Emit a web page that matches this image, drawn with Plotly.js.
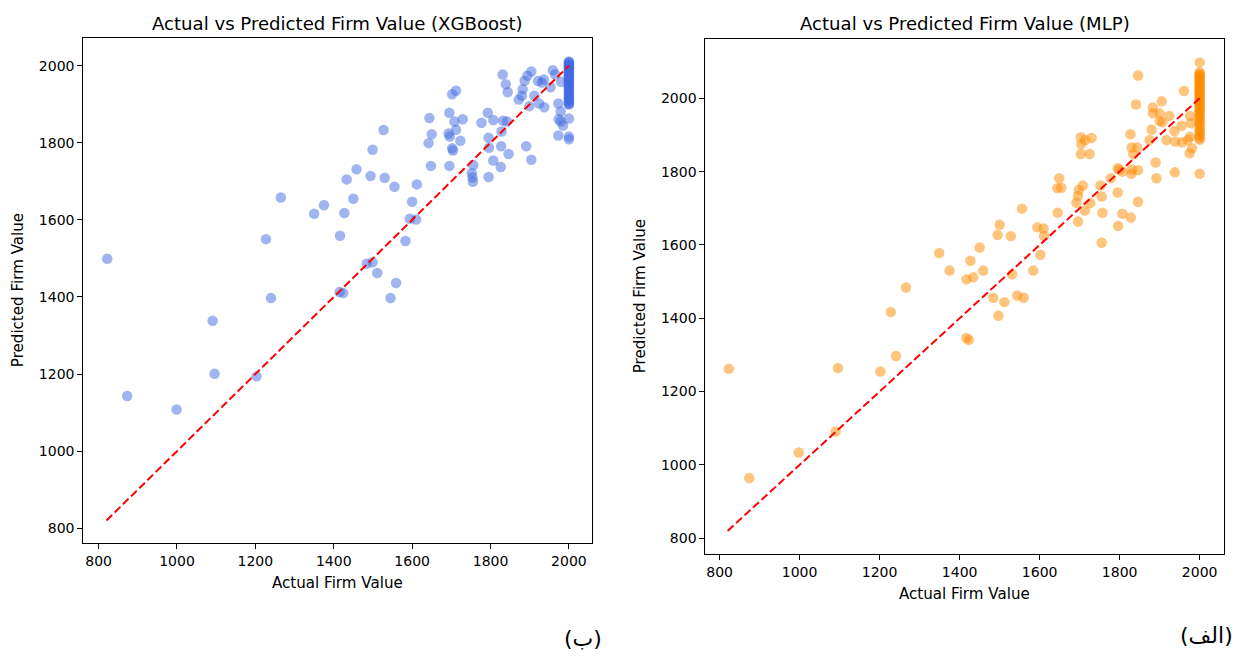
<!DOCTYPE html>
<html>
<head>
<meta charset="utf-8">
<script src="https://cdn.plot.ly/plotly-3.0.1.min.js"></script>
<style>html,body{margin:0;padding:0;background:#fff;}#chart{width:1236px;height:657px;}</style>
</head>
<body>
<div id="chart"></div>
<script>
// ---- XGBoost: actual vs predicted ----
const xgbActual = [822,1227,1265,1350,1375,1427,1450,1433,1458,1416,1499,1527,1494,1530,1555,1612,1600,1594,1610,1583,1484,1499,1511,1559,1415,1424,1545,1240,1091,1096,1203,873,999,
  1644,1650,1642,1648,1695,1702,1712,1729,1708,1712,1693,1696,1723,1702,1704,1695,1756,1752,1754,1755,1795,1777,1793,1807,1795,1796,1807,1826,1827,1846,1828,1832,1842,1831,1839,1844,1872,1880,1882,1887,1894,1904,1891,1904,1899,1912,1921,1936,1931,1924,1937,1959,1965,1980,1953,1973,1979,1974,1979,1985,1973,2000,2000,2000,
  2000,2000,2000,2000,2000,2000,2000,2000,2000,2000,2000,2000,2000,2000,2000,2000,2000,2000,2000,2000,2000,2000,2000,2000,2000,2000,2000,2000,2000,2000,2000,2000,2000,2000,2000,2000,2000];
const xgbPred = [1499,1550,1658,1616,1638,1618,1655,1705,1731,1559,1782,1833,1714,1709,1686,1692,1647,1603,1601,1545,1486,1490,1462,1436,1413,1410,1397,1397,1338,1201,1194,1143,1108,
  1864,1822,1799,1740,1878,1926,1935,1861,1855,1834,1824,1816,1805,1786,1780,1740,1742,1721,1710,1699,1711,1852,1878,1859,1813,1787,1754,1737,1791,1771,1829,1857,1855,1977,1952,1931,1912,1922,1939,1961,1974,1985,1791,1756,1895,1922,1960,1964,1956,1902,1892,1988,1977,1958,1944,1902,1881,1861,1855,1845,1819,1816,1809,1863,
  2011,2009,2006,2004,2001,1998,1996,1993,1990,1987,1984,1982,1979,1975,1972,1970,1966,1963,1961,1957,1954,1950,1948,1944,1941,1937,1934,1930,1927,1922,1918,1915,1912,1908,1904,1901,1899];

// ---- MLP: actual vs predicted ----
const mlpActual = [823,874,998,1090,1096,1202,1241,1228,1266,1417,1423,1417,1434,1484,1512,1497,1544,1560,
  1349,1375,1427,1450,1459,1495,1500,1528,1531,1556,1584,1594,1610,1611,1602,1644,1649,1654,1645,1696,1692,1696,1698,1708,1713,1727,1703,1714,1730,1704,1703,1725,1752,1755,1757,1755,1778,1795,1799,1795,1796,1807,1828,1807,1829,1831,1846,1846,1827,1830,1844,1834,1846,1841,1875,1880,1883,1883,1890,1892,1900,1905,1900,1907,1917,1924,1937,1939,1938,1955,1956,1961,1970,1976,1975,1981,1976,1978,2000,2000,
  2000,2000,2000,2000,2000,2000,2000,2000,2000,2000,2000,2000,2000,2000,2000,2000,2000,2000,2000,2000,2000,2000,2000,2000,2000,2000,2000,2000,2000,2000,2000,2000,2000,2000,2000,2000,2000,2000,2000,2000,2000];
const mlpPred = [1262,964,1034,1091,1264,1255,1297,1417,1484,1346,1341,1506,1512,1456,1444,1407,1462,1456,
  1578,1530,1557,1593,1530,1627,1655,1624,1520,1699,1530,1648,1645,1625,1573,1755,1782,1756,1688,1664,1715,1734,1750,1762,1694,1714,1894,1886,1892,1875,1848,1848,1762,1732,1688,1606,1782,1809,1806,1743,1652,1685,1675,1800,1794,1806,1804,1718,1902,1866,1866,1847,2062,1983,1886,1915,1975,1959,1825,1782,1959,1992,1938,1935,1886,1952,1911,1882,1798,1925,1880,2020,1886,1895,1850,1864,1952,1932,2098,1794,
  2071,2067,2063,2060,2055,2052,2047,2044,2039,2035,2031,2028,2023,2019,2015,2010,2006,2003,1998,1994,1989,1985,1982,1977,1972,1968,1963,1959,1953,1948,1944,1938,1932,1927,1920,1914,1909,1902,1897,1891,1887];

// ---- reference line and labels ----
const refLine = [820, 2000];
const axisTicks = [800, 1000, 1200, 1400, 1600, 1800, 2000];
const titles = ["Actual vs Predicted Firm Value (XGBoost)", "Actual vs Predicted Firm Value (MLP)"];
const xLabel = "Actual Firm Value";
const yLabel = "Predicted Firm Value";
const panelTags = ["(ب)", "(الف)"];

const FONT = "DejaVu Sans";
const dashLine = {color: "red", width: 2, dash: "8px,3.5px"};

const traces = [
  {x: xgbActual, y: xgbPred, type: "scatter", mode: "markers", xaxis: "x", yaxis: "y",
   marker: {color: "#4169E1", opacity: 0.5, size: 10.5, line: {width: 0}}},
  {x: refLine, y: refLine, type: "scatter", mode: "lines", xaxis: "x", yaxis: "y", line: dashLine},
  {x: mlpActual, y: mlpPred, type: "scatter", mode: "markers", xaxis: "x2", yaxis: "y2",
   marker: {color: "#FF8C00", opacity: 0.5, size: 10.5, line: {width: 0}}},
  {x: refLine, y: refLine, type: "scatter", mode: "lines", xaxis: "x2", yaxis: "y2", line: dashLine}
];

function ax(domain, range, anchor) {
  return {
    domain: domain, range: range, anchor: anchor,
    tickvals: axisTicks, ticktext: axisTicks.map(String),
    showgrid: false, zeroline: false,
    showline: true, mirror: true, linecolor: "#000", linewidth: 1,
    ticks: "outside", ticklen: 5, tickwidth: 1, tickcolor: "#000",
    tickfont: {family: FONT, size: 14, color: "#000"}
  };
}

const tFont = {family: FONT, size: 18.1, color: "#000"};
const lFont = {family: FONT, size: 15.1, color: "#000"};

const layout = {
  width: 1236, height: 657,
  margin: {l: 0, r: 0, t: 0, b: 0},
  paper_bgcolor: "#fff", plot_bgcolor: "#fff",
  showlegend: false,
  xaxis: ax([0.0674, 0.4790], [761, 2059], "y"),
  yaxis: ax([0.1731, 0.9417], [761, 2071], "x"),
  xaxis2: ax([0.5707, 0.9905], [764.5, 2061.5], "y2"),
  yaxis2: ax([0.1568, 0.9402], [757, 2161], "x2"),
  annotations: [
    {text: titles[0], x: 0.2731, y: 0.9635, xref: "paper", yref: "paper", showarrow: false, xanchor: "center", yanchor: "middle", font: tFont},
    {text: titles[1], x: 0.7807, y: 0.9635, xref: "paper", yref: "paper", showarrow: false, xanchor: "center", yanchor: "middle", font: tFont},
    {text: xLabel, x: 0.2731, y: 0.1126, xref: "paper", yref: "paper", showarrow: false, xanchor: "center", yanchor: "middle", font: lFont},
    {text: xLabel, x: 0.7807, y: 0.0964, xref: "paper", yref: "paper", showarrow: false, xanchor: "center", yanchor: "middle", font: lFont},
    {text: yLabel, x: 0.0143, y: 0.5578, xref: "paper", yref: "paper", showarrow: false, textangle: -90, xanchor: "center", yanchor: "middle", font: lFont},
    {text: yLabel, x: 0.5176, y: 0.5486, xref: "paper", yref: "paper", showarrow: false, textangle: -90, xanchor: "center", yanchor: "middle", font: lFont},
    {text: panelTags[0], x: 0.4717, y: 0.0289, xref: "paper", yref: "paper", showarrow: false, xanchor: "center", yanchor: "middle", font: {family: FONT, size: 22, color: "#000"}},
    {text: panelTags[1], x: 0.9765, y: 0.032, xref: "paper", yref: "paper", showarrow: false, xanchor: "center", yanchor: "middle", font: {family: FONT, size: 22, color: "#000"}}
  ]
};

Plotly.newPlot("chart", traces, layout, {displayModeBar: false, staticPlot: true});
</script>
</body>
</html>
